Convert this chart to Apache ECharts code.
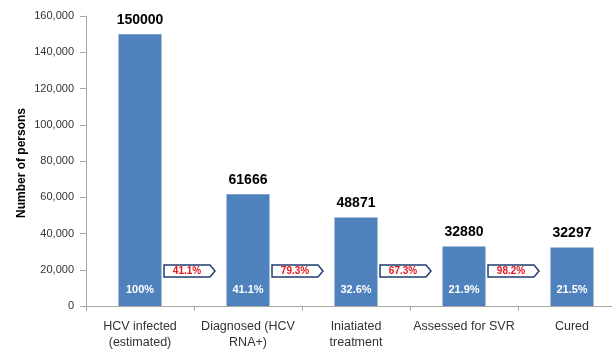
<!DOCTYPE html>
<html>
<head>
<meta charset="utf-8">
<script src="https://cdn.jsdelivr.net/npm/echarts@6/dist/echarts.min.js"></script>
<style>
  html, body { margin: 0; padding: 0; background: #fff; overflow: hidden; }
  #chart { width: 640px; height: 351px; }
</style>
</head>
<body>
<div id="chart"></div>
<script>
// HCV care cascade
const categories = ['HCV infected\n(estimated)', 'Diagnosed (HCV\nRNA+)', 'Iniatiated\ntreatment', 'Assessed for SVR', 'Cured'];
const persons = [150000, 61666, 48871, 32880, 32297];
const shareOfInfected = [100, 41.1, 32.6, 21.9, 21.5];
// retention from one stage to the next
const stepRetention = [41.1, 79.3, 67.3, 98.2];
const yTicks = [0, 20000, 40000, 60000, 80000, 100000, 120000, 140000, 160000];
const yTitle = 'Number of persons';

const FONT = '"Liberation Sans", Arial, sans-serif';
const chart = echarts.init(document.getElementById('chart'), null, { renderer: 'canvas' });

chart.setOption({
  animation: false,
  grid: { left: 86, top: 16, width: 540, height: 295, containLabel: false },
  graphic: [
    {
      type: 'text',
      x: 22, y: 163,
      rotation: Math.PI / 2,
      style: {
        text: yTitle, fill: '#000', font: 'bold 12px ' + FONT,
        align: 'center', verticalAlign: 'middle'
      }
    }
  ],
  xAxis: {
    type: 'category',
    data: categories,
    axisLine: { lineStyle: { color: '#a6a6a6', width: 1 } },
    axisTick: { show: true, length: 5, lineStyle: { color: '#a6a6a6' } },
    axisLabel: { color: '#333', fontFamily: FONT, fontSize: 12.5, lineHeight: 16, margin: 13, interval: 0 }
  },
  yAxis: {
    type: 'value',
    min: yTicks[0],
    max: yTicks[yTicks.length - 1],
    interval: yTicks[1] - yTicks[0],
    axisLine: { show: true, lineStyle: { color: '#a6a6a6', width: 1 } },
    axisTick: { show: true, length: 6, lineStyle: { color: '#a6a6a6' } },
    splitLine: { show: false },
    axisLabel: {
      color: '#333', fontFamily: FONT, fontSize: 11, margin: 12,
      formatter: v => v.toLocaleString('en-US')
    }
  },
  series: [
    {
      type: 'bar',
      data: persons,
      barWidth: 43,
      itemStyle: { color: '#4f81bd' },
      label: {
        show: true, position: 'top', distance: 7,
        color: '#000', fontFamily: FONT, fontSize: 14, fontWeight: 'bold',
        formatter: p => String(p.value)
      }
    },
    {
      // share of all infected persons, written inside each bar
      type: 'bar',
      data: persons,
      barWidth: 43,
      barGap: '-100%',
      itemStyle: { color: 'transparent' },
      silent: true,
      z: 3,
      label: {
        show: true, position: 'insideBottom', distance: 11,
        color: '#fff', fontFamily: FONT, fontSize: 11, fontWeight: 'bold',
        formatter: p => (p.dataIndex === 0 ? '100' : shareOfInfected[p.dataIndex].toFixed(1)) + '%'
      }
    },
    {
      // arrow tags between neighbouring stages
      type: 'custom',
      data: stepRetention.map((v, i) => [i, v]),
      z: 5,
      renderItem: function (params, api) {
        const i = api.value(0);
        const c = api.coord([i, 0]);
        const band = api.size([1, 0])[0];
        const bx = c[0] + band / 2;
        const cy = c[1] - 35;
        const h = 6;
        return {
          type: 'group',
          children: [
            {
              type: 'polygon',
              shape: {
                points: [
                  [bx - 30, cy - h], [bx + 16, cy - h], [bx + 21, cy],
                  [bx + 16, cy + h], [bx - 30, cy + h]
                ]
              },
              style: { fill: '#fff', stroke: '#1f3e6e', lineWidth: 1.5 }
            },
            {
              type: 'text',
              x: bx - 7, y: cy,
              style: {
                text: api.value(1).toFixed(1) + '%',
                fill: '#e8171f', font: 'bold 10px ' + FONT,
                align: 'center', verticalAlign: 'middle'
              }
            }
          ]
        };
      }
    }
  ]
});
</script>
</body>
</html>
